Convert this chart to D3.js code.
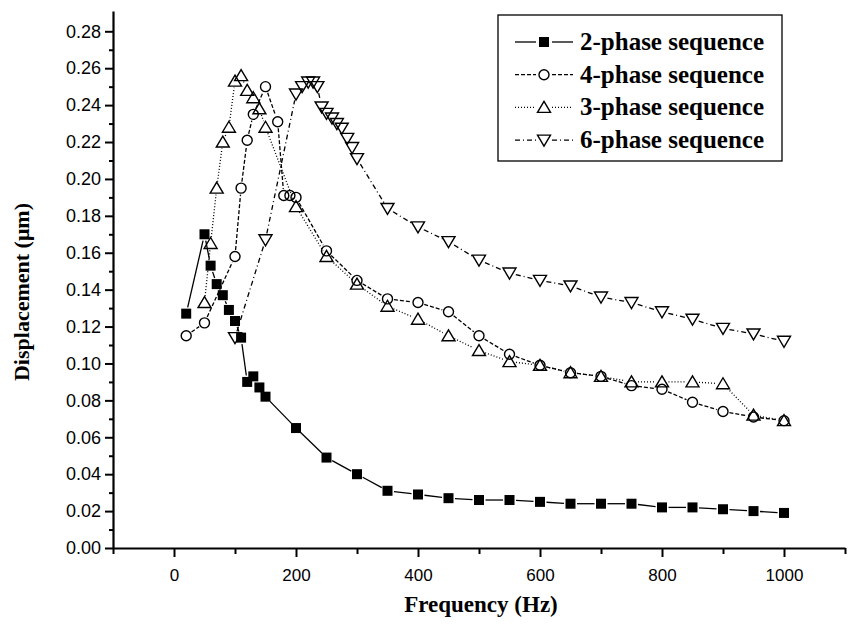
<!DOCTYPE html>
<html>
<head>
<meta charset="utf-8">
<script src="https://cdn.jsdelivr.net/npm/d3@7"></script>
<style>
body { margin: 0; background: #fff; }
svg { display: block; }
</style>
</head>
<body>
<div id="chart"></div>
<script>
// Data (frequency in Hz, displacement in um)
const freq2 = [20, 50, 60, 70, 80, 90, 100, 110, 120, 130, 140, 150, 200, 250, 300, 350, 400, 450, 500, 550, 600, 650, 700, 750, 800, 850, 900, 950, 1000];
const disp2 = [0.127, 0.170, 0.153, 0.143, 0.137, 0.129, 0.123, 0.114, 0.090, 0.093, 0.087, 0.082, 0.065, 0.049, 0.040, 0.031, 0.029, 0.027, 0.026, 0.026, 0.025, 0.024, 0.024, 0.024, 0.022, 0.022, 0.021, 0.020, 0.019];

const freq4 = [20, 50, 100, 110, 120, 130, 150, 170, 180, 190, 200, 250, 300, 350, 400, 450, 500, 550, 600, 650, 700, 750, 800, 850, 900, 950, 1000];
const disp4 = [0.115, 0.122, 0.158, 0.195, 0.221, 0.235, 0.250, 0.231, 0.191, 0.191, 0.190, 0.161, 0.145, 0.135, 0.133, 0.128, 0.115, 0.105, 0.099, 0.095, 0.093, 0.088, 0.086, 0.079, 0.074, 0.071, 0.069];

const freq3 = [50, 60, 70, 80, 90, 100, 110, 120, 130, 140, 150, 200, 250, 300, 350, 400, 450, 500, 550, 600, 650, 700, 750, 800, 850, 900, 950, 1000];
const disp3 = [0.133, 0.165, 0.195, 0.220, 0.228, 0.253, 0.256, 0.248, 0.244, 0.238, 0.228, 0.185, 0.158, 0.143, 0.131, 0.124, 0.115, 0.107, 0.101, 0.099, 0.095, 0.093, 0.090, 0.090, 0.090, 0.089, 0.072, 0.069];

const freq6 = [100, 150, 200, 210, 220, 228, 235, 242, 250, 259, 267, 275, 284, 292, 300, 350, 400, 450, 500, 550, 600, 650, 700, 750, 800, 850, 900, 950, 1000];
const disp6 = [0.114, 0.167, 0.246, 0.250, 0.2525, 0.2525, 0.250, 0.239, 0.2355, 0.233, 0.230, 0.2275, 0.222, 0.217, 0.211, 0.184, 0.174, 0.166, 0.156, 0.149, 0.145, 0.142, 0.136, 0.133, 0.128, 0.124, 0.119, 0.116, 0.112];

const seriesNames = ["2-phase sequence", "4-phase sequence", "3-phase sequence", "6-phase sequence"];
const xTickLabels = [0, 200, 400, 600, 800, 1000];
const yTickLabels = [0, 0.02, 0.04, 0.06, 0.08, 0.10, 0.12, 0.14, 0.16, 0.18, 0.20, 0.22, 0.24, 0.26, 0.28];

// Series table built from the arrays above
const series = [
  { name: seriesNames[0], f: freq2, v: disp2, shape: "square", dash: null },
  { name: seriesNames[1], f: freq4, v: disp4, shape: "circle", dash: "4,2" },
  { name: seriesNames[2], f: freq3, v: disp3, shape: "up", dash: "1,2" },
  { name: seriesNames[3], f: freq6, v: disp6, shape: "down", dash: "5,3,1,3" }
];

const W = 851, H = 632;
const svg = d3.select("#chart").append("svg")
  .attr("width", W)
  .attr("height", H);

const x = d3.scaleLinear().domain([-100, 1100]).range([113, 845]);
const y = d3.scaleLinear().domain([0, 0.291]).range([548, 11]);

// Axes
const yMinor = d3.range(0.01, 0.29, 0.02);
svg.append("g")
  .attr("transform", "translate(113,0)")
  .call(d3.axisLeft(y).tickValues(yMinor).tickSize(4).tickSizeOuter(0).tickFormat(""))
  .call(g => g.select(".domain").remove())
  .selectAll("line").attr("stroke-width", 2);

const yAxis = svg.append("g")
  .attr("transform", "translate(113,0)")
  .call(d3.axisLeft(y).tickValues(yTickLabels).tickSize(8).tickSizeOuter(0).tickPadding(4)
    .tickFormat(d3.format(".2f")));
yAxis.select(".domain").attr("stroke-width", 2.2);
yAxis.selectAll("line").attr("stroke-width", 2);
yAxis.selectAll("text")
  .attr("font-family", "'Liberation Sans', Arial, sans-serif")
  .attr("font-size", 18)
  .attr("fill", "#000");

svg.append("g")
  .attr("transform", "translate(0,548)")
  .call(d3.axisBottom(x).tickValues([-100, 100, 300, 500, 700, 900, 1100]).tickSize(6).tickSizeOuter(0).tickFormat(""))
  .call(g => g.select(".domain").remove())
  .selectAll("line").attr("stroke-width", 2);

const xAxis = svg.append("g")
  .attr("transform", "translate(0,548)")
  .call(d3.axisBottom(x).tickValues(xTickLabels).tickSize(9).tickSizeOuter(0).tickPadding(12)
    .tickFormat(d3.format("d")));
xAxis.select(".domain").attr("stroke-width", 2.2);
xAxis.selectAll("line").attr("stroke-width", 2);
xAxis.selectAll("text")
  .attr("font-family", "'Liberation Sans', Arial, sans-serif")
  .attr("font-size", 17)
  .attr("fill", "#000");

// Axis titles
svg.append("text")
  .attr("x", 481)
  .attr("y", 612)
  .attr("text-anchor", "middle")
  .attr("font-family", "'Liberation Serif', 'Times New Roman', serif")
  .attr("font-weight", "bold")
  .attr("font-size", 23)
  .text("Frequency (Hz)");

svg.append("text")
  .attr("transform", "translate(29,292) rotate(-90)")
  .attr("text-anchor", "middle")
  .attr("font-family", "'Liberation Serif', 'Times New Roman', serif")
  .attr("font-weight", "bold")
  .attr("font-size", 22)
  .text("Displacement (\u03bcm)");

// Marker drawing
function drawMarker(g, shape, cx, cy) {
  if (shape === "square") {
    g.append("rect").attr("x", cx - 5).attr("y", cy - 5).attr("width", 10).attr("height", 10)
      .attr("fill", "#000");
  } else if (shape === "circle") {
    g.append("circle").attr("cx", cx).attr("cy", cy).attr("r", 5)
      .attr("fill", "none").attr("stroke", "#000").attr("stroke-width", 1.4);
  } else if (shape === "up") {
    g.append("path").attr("d", `M${cx},${cy - 6}L${cx + 6.5},${cy + 5}L${cx - 6.5},${cy + 5}Z`)
      .attr("fill", "none").attr("stroke", "#000").attr("stroke-width", 1.4);
  } else {
    g.append("path").attr("d", `M${cx - 6.5},${cy - 5}L${cx + 6.5},${cy - 5}L${cx},${cy + 6}Z`)
      .attr("fill", "none").attr("stroke", "#000").attr("stroke-width", 1.4);
  }
}

// Lines stop short of each marker, as in the original
const gap = 6.5;
series.forEach(s => {
  const g = svg.append("g");
  const pts = s.f.map((f, i) => [x(f), y(s.v[i])]);
  for (let i = 0; i < pts.length - 1; i++) {
    const [x0, y0] = pts[i], [x1, y1] = pts[i + 1];
    const len = Math.hypot(x1 - x0, y1 - y0);
    if (len <= 2 * gap) continue;
    const ux = (x1 - x0) / len, uy = (y1 - y0) / len;
    g.append("line")
      .attr("x1", x0 + ux * gap).attr("y1", y0 + uy * gap)
      .attr("x2", x1 - ux * gap).attr("y2", y1 - uy * gap)
      .attr("stroke", "#000").attr("stroke-width", 1.3)
      .attr("stroke-dasharray", s.dash);
  }
  pts.forEach(p => drawMarker(g, s.shape, p[0], p[1]));
});

// Legend
const legend = svg.append("g");
legend.append("rect")
  .attr("x", 498).attr("y", 15).attr("width", 284).attr("height", 146)
  .attr("fill", "#fff").attr("stroke", "#000").attr("stroke-width", 1.3);

series.forEach((s, i) => {
  const ly = 42 + i * 32.7;
  legend.append("line").attr("x1", 515).attr("x2", 536).attr("y1", ly).attr("y2", ly)
    .attr("stroke", "#000").attr("stroke-width", 1.3).attr("stroke-dasharray", s.dash);
  legend.append("line").attr("x1", 552).attr("x2", 573).attr("y1", ly).attr("y2", ly)
    .attr("stroke", "#000").attr("stroke-width", 1.3).attr("stroke-dasharray", s.dash);
  drawMarker(legend, s.shape, 544, ly);
  legend.append("text")
    .attr("x", 580).attr("y", ly + 8)
    .attr("font-family", "'Liberation Serif', 'Times New Roman', serif")
    .attr("font-weight", "bold")
    .attr("font-size", 25)
    .text(s.name);
});
</script>
</body>
</html>
